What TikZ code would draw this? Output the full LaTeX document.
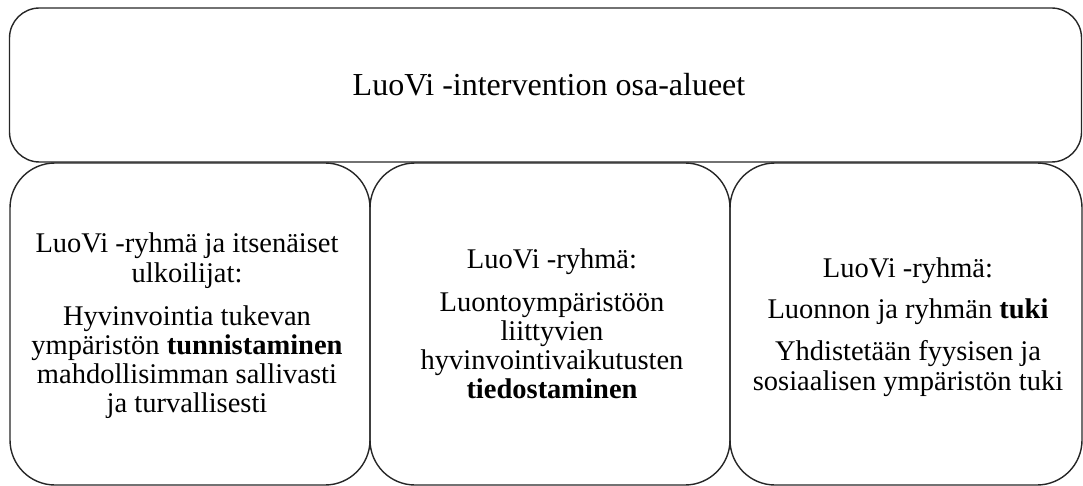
\documentclass[tikz,border=0pt]{standalone}
\usepackage{fontspec}
\setmainfont{Liberation Serif}
\begin{document}
\begin{tikzpicture}[x=1pt,y=-1pt,
  box/.style={draw=black!85, line width=1.4pt, inner sep=0pt},
  topbox/.style={box, rounded corners=30pt},
  lowbox/.style={box, rounded corners=45pt, minimum height=322pt},
  txt/.style={align=center, inner sep=0pt, font=\fontsize{28.5}{29.2}\selectfont},
  ttl/.style={inner sep=0pt, font=\fontsize{32}{32}\selectfont}]
\useasboundingbox (0,0) rectangle (1083,486);
\node[topbox, minimum width=1072pt, minimum height=154pt] (top) at (545.5,85) {};
\node[ttl] (title) at (549,85) {LuoVi -intervention osa-alueet};
\node[lowbox, minimum width=360pt] (b1) at (190,324) {};
\node[lowbox, minimum width=360pt] (b2) at (550,324) {};
\node[lowbox, minimum width=352pt] (b3) at (906,324) {};
\node[txt] (t1) at (187,326) {LuoVi -ryhmä ja itsenäiset\\ ulkoilijat:\\[14pt] Hyvinvointia tukevan\\ ympäristön \textbf{tunnistaminen}\\ mahdollisimman sallivasti\\ ja turvallisesti};
\node[txt] (t2) at (552,324) {LuoVi -ryhmä:\\[13pt] Luontoympäristöön\\ liittyvien\\ hyvinvointivaikutusten\\ \textbf{tiedostaminen}};
\node[txt] (t3) at (908,327) {LuoVi -ryhmä:\\[12pt] Luonnon ja ryhmän \textbf{tuki}\\[13pt] Yhdistetään fyysisen ja\\ sosiaalisen ympäristön tuki};
\end{tikzpicture}
\end{document}
